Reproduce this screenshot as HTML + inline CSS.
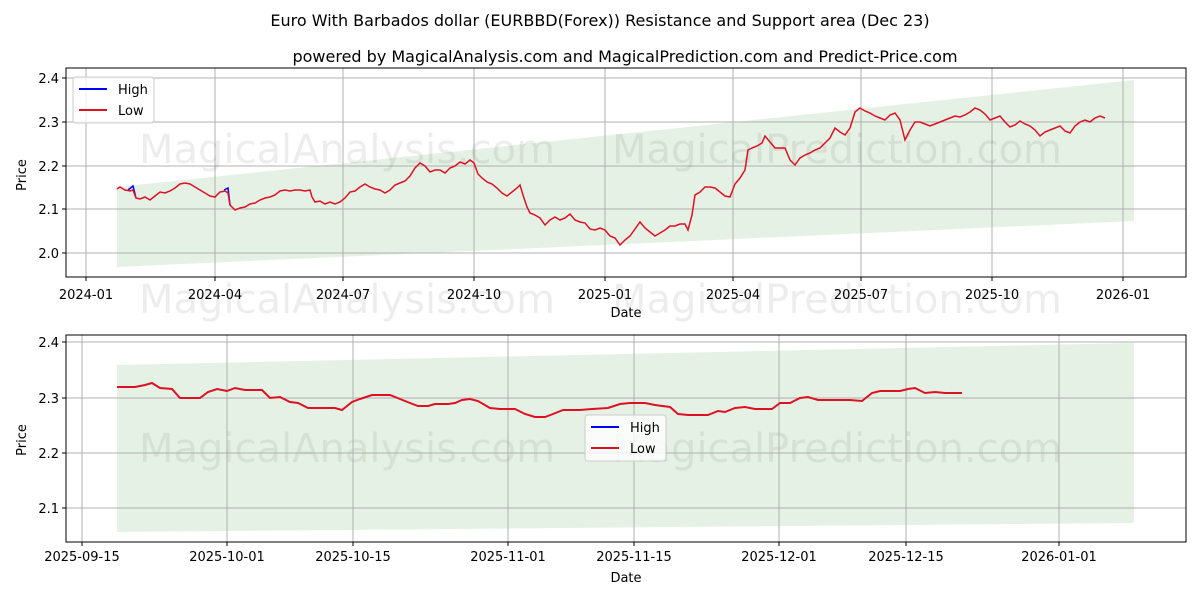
<!DOCTYPE html>
<html><head><meta charset="utf-8"><style>
body{margin:0;background:#fff;}
svg{display:block;font-family:"DejaVu Sans","Liberation Sans",sans-serif;}
</style></head><body>
<svg width="1200" height="600" viewBox="0 0 1200 600" xmlns="http://www.w3.org/2000/svg">
<rect width="1200" height="600" fill="#fff"/>
<text x="600" y="26" font-size="16" text-anchor="middle">Euro With Barbados dollar (EURBBD(Forex)) Resistance and Support area (Dec 23)</text>
<text x="625" y="62" font-size="16" text-anchor="middle">powered by MagicalAnalysis.com and MagicalPrediction.com and Predict-Price.com</text>

<!-- TOP CHART -->
<polygon points="117,187 1134,80 1134,221 117,267" fill="#2e8b2e" fill-opacity="0.12"/>
<g stroke="#b0b0b0" stroke-width="1">
<line x1="86" y1="68" x2="86" y2="277"/><line x1="215" y1="68" x2="215" y2="277"/><line x1="343" y1="68" x2="343" y2="277"/><line x1="474" y1="68" x2="474" y2="277"/><line x1="605" y1="68" x2="605" y2="277"/><line x1="733" y1="68" x2="733" y2="277"/><line x1="861" y1="68" x2="861" y2="277"/><line x1="992" y1="68" x2="992" y2="277"/><line x1="1123" y1="68" x2="1123" y2="277"/>
<line x1="66" y1="78" x2="1186" y2="78"/><line x1="66" y1="122" x2="1186" y2="122"/><line x1="66" y1="166" x2="1186" y2="166"/><line x1="66" y1="209" x2="1186" y2="209"/><line x1="66" y1="253" x2="1186" y2="253"/>
</g>
<g font-size="40" fill="#000" fill-opacity="0.07" text-anchor="middle">
<text x="347" y="163">MagicalAnalysis.com</text><text x="837" y="163">MagicalPrediction.com</text>
<text x="347" y="313">MagicalAnalysis.com</text><text x="837" y="313">MagicalPrediction.com</text>
<text x="347" y="462">MagicalAnalysis.com</text><text x="837" y="462">MagicalPrediction.com</text>
</g>
<polyline fill="none" stroke="#0000ff" stroke-width="1.5" points="128,190 133,186 136,198"/>
<polyline fill="none" stroke="#0000ff" stroke-width="1.5" points="224,190 228,188 230,205"/>
<polyline fill="none" stroke="#dd1122" stroke-width="1.5" points="117,189 120,187 125,190 130,191 133,190 136,198 140,199 145,197 150,200 155,196 160,192 165,193 170,191 175,188 180,184 185,183 190,184 195,187 200,190 205,193 210,196 215,197 220,192 225,191 228,193 230,205 235,210 240,208 245,207 250,204 255,203 260,200 265,198 270,197 275,195 280,191 285,190 290,191 295,190 300,190 305,191 310,190 312,197 315,202 320,201 325,204 330,202 335,204 340,202 345,198 350,192 355,191 360,187 365,184 370,187 375,189 380,190 385,193 390,190 395,185 400,183 405,181 410,176 415,168 420,163 425,166 430,172 435,170 440,170 445,173 450,168 455,166 460,162 465,164 470,160 474,163 478,174 482,178 487,182 492,184 497,188 502,193 507,196 512,192 517,188 520,185 523,195 527,207 530,213 535,215 540,218 545,225 550,220 555,217 560,220 565,218 570,214 575,220 580,222 585,223 590,229 595,230 600,228 605,230 610,236 615,238 620,245 625,240 630,236 635,229 640,222 645,228 650,232 655,236 660,233 665,230 670,226 675,226 680,224 685,224 688,230 692,215 695,195 700,192 705,187 710,187 715,188 720,192 725,196 730,197 735,184 740,178 745,170 748,150 752,148 757,146 762,143 765,136 770,142 775,148 780,148 785,148 790,160 795,165 800,158 805,155 810,153 815,150 820,148 825,143 830,138 835,128 840,132 845,135 850,128 855,112 860,108 865,111 870,113 875,116 880,118 885,120 890,115 895,113 900,120 905,140 910,130 915,122 920,122 925,124 930,126 935,124 940,122 945,120 950,118 955,116 960,117 965,115 970,112 975,108 980,110 985,114 990,120 995,118 1000,116 1005,122 1010,127 1015,125 1020,121 1025,124 1030,126 1035,130 1040,136 1045,132 1050,130 1055,128 1060,126 1065,131 1070,133 1075,126 1080,122 1085,120 1090,122 1095,118 1100,116 1105,118"/>
<rect x="66" y="68" width="1120" height="209" fill="none" stroke="#000" stroke-width="1"/>
<g font-size="13" text-anchor="middle">
<text x="86" y="299">2024-01</text><text x="215" y="299">2024-04</text><text x="343" y="299">2024-07</text><text x="474" y="299">2024-10</text><text x="605" y="299">2025-01</text><text x="733" y="299">2025-04</text><text x="861" y="299">2025-07</text><text x="992" y="299">2025-10</text><text x="1123" y="299">2026-01</text>
<text x="626" y="317">Date</text>
</g>
<g stroke="#000"><line x1="86" y1="277" x2="86" y2="281"/><line x1="215" y1="277" x2="215" y2="281"/><line x1="343" y1="277" x2="343" y2="281"/><line x1="474" y1="277" x2="474" y2="281"/><line x1="605" y1="277" x2="605" y2="281"/><line x1="733" y1="277" x2="733" y2="281"/><line x1="861" y1="277" x2="861" y2="281"/><line x1="992" y1="277" x2="992" y2="281"/><line x1="1123" y1="277" x2="1123" y2="281"/>
<line x1="62" y1="78" x2="66" y2="78"/><line x1="62" y1="122" x2="66" y2="122"/><line x1="62" y1="166" x2="66" y2="166"/><line x1="62" y1="209" x2="66" y2="209"/><line x1="62" y1="253" x2="66" y2="253"/></g>
<g font-size="13" text-anchor="end">
<text x="59" y="83">2.4</text><text x="59" y="127">2.3</text><text x="59" y="171">2.2</text><text x="59" y="214">2.1</text><text x="59" y="258">2.0</text>
</g>
<text x="26" y="175" font-size="13" text-anchor="middle" transform="rotate(-90 26 175)">Price</text>
<rect x="73" y="77" width="81" height="46" rx="3" fill="#fff" fill-opacity="0.8" stroke="#ccc"/>
<line x1="79" y1="89" x2="107" y2="89" stroke="#0000ff" stroke-width="2"/><text x="118" y="94" font-size="13">High</text>
<line x1="79" y1="110" x2="107" y2="110" stroke="#dd1122" stroke-width="2"/><text x="118" y="115" font-size="13">Low</text>

<!-- BOTTOM CHART -->
<polygon points="117,365 1134,343 1134,523 117,532" fill="#2e8b2e" fill-opacity="0.12"/>
<g stroke="#b0b0b0" stroke-width="1">
<line x1="82" y1="335" x2="82" y2="542"/><line x1="227" y1="335" x2="227" y2="542"/><line x1="353" y1="335" x2="353" y2="542"/><line x1="508" y1="335" x2="508" y2="542"/><line x1="634" y1="335" x2="634" y2="542"/><line x1="779" y1="335" x2="779" y2="542"/><line x1="906" y1="335" x2="906" y2="542"/><line x1="1059" y1="335" x2="1059" y2="542"/>
<line x1="66" y1="342" x2="1186" y2="342"/><line x1="66" y1="398" x2="1186" y2="398"/><line x1="66" y1="453" x2="1186" y2="453"/><line x1="66" y1="508" x2="1186" y2="508"/>
</g>
<polyline fill="none" stroke="#dd1122" stroke-width="2" points="117,387 135,387 145,385 152,383 160,388 172,389 180,398 200,398 208,392 217,389 227,391 235,388 245,390 262,390 270,398 280,397 290,402 298,403 308,408 335,408 342,410 352,402 360,399 372,395 390,395 400,399 410,403 418,406 428,406 435,404 448,404 455,403 462,400 470,399 478,401 490,408 500,409 515,409 525,414 535,417 545,417 553,414 563,410 580,410 592,409 608,408 620,404 630,403 645,403 655,405 670,407 678,414 688,415 708,415 718,411 725,412 735,408 745,407 755,409 772,409 780,403 790,403 800,398 808,397 818,400 840,400 850,400 862,401 872,393 880,391 900,391 908,389 915,388 925,393 935,392 945,393 962,393"/>
<rect x="66" y="335" width="1120" height="207" fill="none" stroke="#000" stroke-width="1"/>
<g stroke="#000"><line x1="82" y1="542" x2="82" y2="546"/><line x1="227" y1="542" x2="227" y2="546"/><line x1="353" y1="542" x2="353" y2="546"/><line x1="508" y1="542" x2="508" y2="546"/><line x1="634" y1="542" x2="634" y2="546"/><line x1="779" y1="542" x2="779" y2="546"/><line x1="906" y1="542" x2="906" y2="546"/><line x1="1059" y1="542" x2="1059" y2="546"/>
<line x1="62" y1="342" x2="66" y2="342"/><line x1="62" y1="398" x2="66" y2="398"/><line x1="62" y1="453" x2="66" y2="453"/><line x1="62" y1="508" x2="66" y2="508"/></g>
<g font-size="13" text-anchor="middle">
<text x="82" y="561">2025-09-15</text><text x="227" y="561">2025-10-01</text><text x="353" y="561">2025-10-15</text><text x="508" y="561">2025-11-01</text><text x="634" y="561">2025-11-15</text><text x="779" y="561">2025-12-01</text><text x="906" y="561">2025-12-15</text><text x="1059" y="561">2026-01-01</text>
<text x="626" y="582">Date</text>
</g>
<g font-size="13" text-anchor="end">
<text x="59" y="347">2.4</text><text x="59" y="403">2.3</text><text x="59" y="458">2.2</text><text x="59" y="513">2.1</text>
</g>
<text x="26" y="440" font-size="13" text-anchor="middle" transform="rotate(-90 26 440)">Price</text>
<rect x="585" y="415" width="81" height="46" rx="3" fill="#fff" fill-opacity="0.8" stroke="#ccc"/>
<line x1="591" y1="427" x2="619" y2="427" stroke="#0000ff" stroke-width="2"/><text x="630" y="432" font-size="13">High</text>
<line x1="591" y1="448" x2="619" y2="448" stroke="#dd1122" stroke-width="2"/><text x="630" y="453" font-size="13">Low</text>
</svg>
</body></html>
